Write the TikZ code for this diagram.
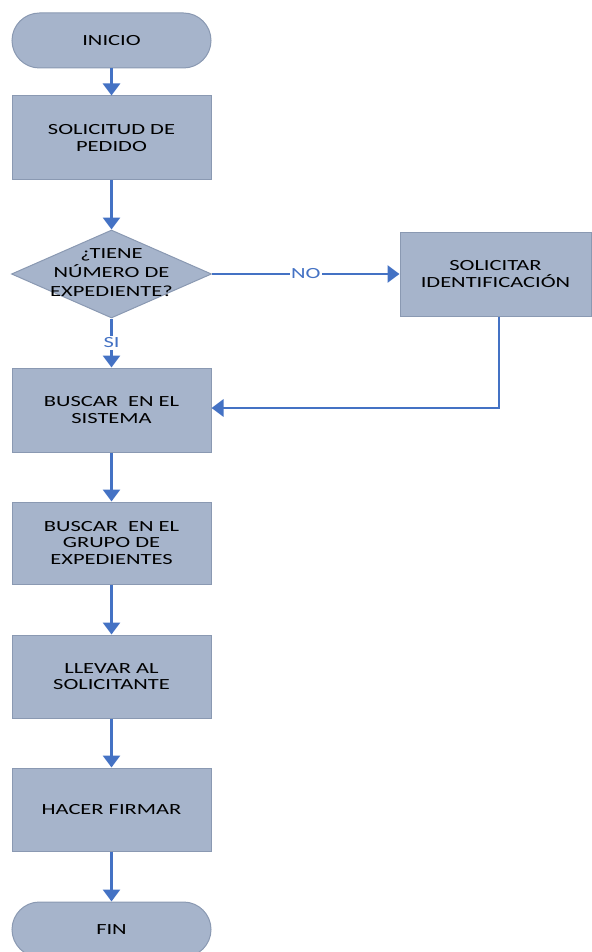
\documentclass[tikz,border=0pt]{standalone}
\usepackage{fontspec}
\setmainfont{Carlito}[FakeStretch=1.45]
\usetikzlibrary{arrows.meta,shapes.geometric}
\definecolor{boxfill}{RGB}{166,180,203}
\definecolor{boxline}{RGB}{138,153,178}
\definecolor{arr}{RGB}{68,114,196}
\begin{document}
\begin{tikzpicture}[x=1pt,y=-1pt,
  box/.style={draw=boxline, fill=boxfill, line width=1pt, minimum width=199pt,
    minimum height=84pt, align=center, inner sep=0pt,
    font=\fontsize{15.5}{16.5}\selectfont},
  term/.style={box, rounded corners=27.5pt, minimum height=55pt},
  decision/.style={diamond, draw=boxline, fill=boxfill, line width=1pt,
    minimum width=200pt, minimum height=88pt, inner sep=0pt},
  dtext/.style={align=center, inner sep=0pt, font=\fontsize{15.5}{19}\selectfont},
  conn/.style={draw=arr, line width=2.8pt, -{Triangle[width=17pt,length=12pt]}},
  lbl/.style={fill=white, text=arr, inner sep=1.5pt, font=\fontsize{15.5}{16.5}\selectfont}
]
\useasboundingbox (0,0) rectangle (591,952);
\node[term] (inicio) at (111.5,40.5) {INICIO};
\node[box] (pedido) at (111.5,138) {SOLICITUD DE\\PEDIDO};
\node[decision] (dec) at (111.5,274) {};
\node[dtext] (dect) at (111.5,272.5) {¿TIENE\\NÚMERO DE\\EXPEDIENTE?};
\node[box, minimum width=191pt] (ident) at (495.5,274) {SOLICITAR\\IDENTIFICACIÓN};
\node[box] (sistema) at (111.5,410) {BUSCAR\ \ EN EL\\SISTEMA};
\node[box, minimum height=82pt] (grupo) at (111.5,543) {BUSCAR\ \ EN EL\\GRUPO DE\\EXPEDIENTES};
\node[box, minimum height=83pt] (llevar) at (111.5,676.5) {LLEVAR AL\\SOLICITANTE};
\node[box, minimum height=83pt] (firmar) at (111.5,809.5) {HACER FIRMAR};
\node[term] (fin) at (111.5,929.5) {FIN};

\draw[conn] (inicio) -- (pedido);
\draw[conn] (pedido) -- (dec);
\draw[conn] (dec.east) -- node[lbl] (no) {NO} (ident.west);
\draw[conn] (dec.south) -- node[lbl] (si) {SI} (sistema.north);
\draw[conn] ([xshift=3.5pt]ident.south) |- ([yshift=2pt]sistema.east);
\draw[conn] (sistema) -- (grupo);
\draw[conn] (grupo) -- (llevar);
\draw[conn] (llevar) -- (firmar);
\draw[conn] (firmar) -- (fin);
\end{tikzpicture}
\end{document}
